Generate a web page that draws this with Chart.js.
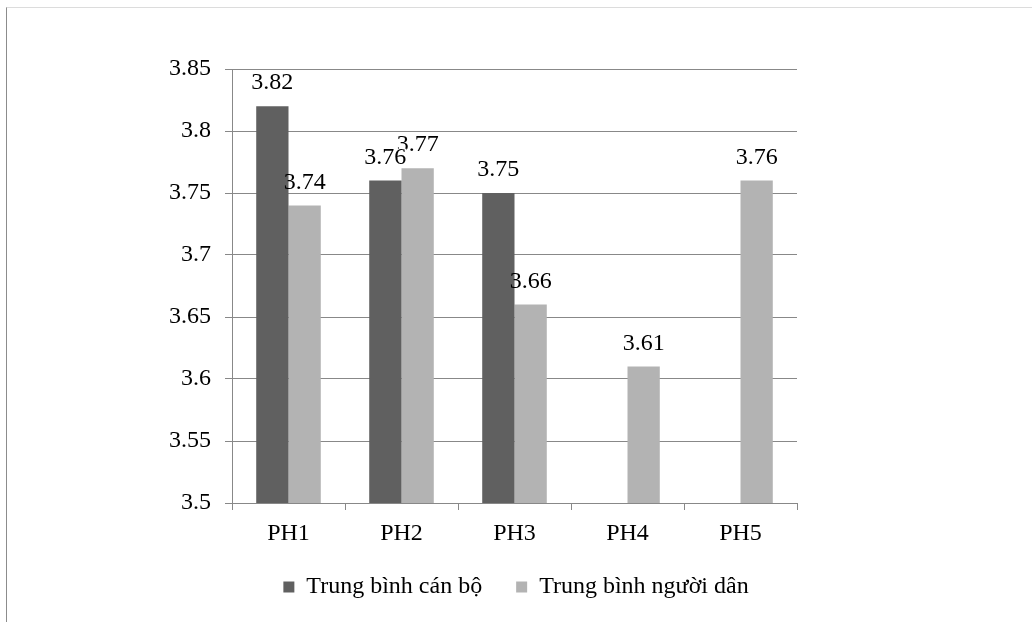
<!DOCTYPE html>
<html>
<head>
<meta charset="utf-8">
<script src="https://cdn.jsdelivr.net/npm/chart.js@4"></script>
<style>
  html, body { margin: 0; padding: 0; background: #fff; }
  #wrap { position: relative; width: 1032px; height: 622px; overflow: hidden; }
  #frame { position: absolute; left: 6px; top: 7px; width: 1100px; height: 700px;
           border-left: 1px solid #8c8c8c; border-top: 1px solid #dcdcdc; }
  #c { position: absolute; left: 0; top: 0; }
</style>
</head>
<body>
<div id="wrap">
  <div id="frame"></div>
  <canvas id="c" width="1032" height="622"></canvas>
</div>
<script>
// Categories and the two series of mean scores
const categories = ['PH1', 'PH2', 'PH3', 'PH4', 'PH5'];
const canBo = [3.82, 3.76, 3.75, null, null];
const nguoiDan = [3.74, 3.77, 3.66, 3.61, 3.76];
const seriesNames = ['Trung bình cán bộ', 'Trung bình người dân'];
const yTicks = [3.5, 3.55, 3.6, 3.65, 3.7, 3.75, 3.8, 3.85];

const FONT = 'Liberation Serif, "Times New Roman", serif';
const AXIS = '#888888';

// Value labels above each bar; the second series is drawn first so the
// first series' labels sit on top where they overlap.
const valueLabels = {
  id: 'valueLabels',
  afterDatasetsDraw(chart) {
    const ctx = chart.ctx;
    ctx.save();
    ctx.font = '24px ' + FONT;
    ctx.textAlign = 'center';
    ctx.textBaseline = 'middle';
    [1, 0].forEach(di => {
      const meta = chart.getDatasetMeta(di);
      const data = chart.data.datasets[di].data;
      meta.data.forEach((el, i) => {
        const v = data[i];
        if (v === null || v === undefined) return;
        const txt = String(v);
        const x = el.x, y = el.y - 23;
        if (di === 0) {
          const w = ctx.measureText(txt).width;
          ctx.fillStyle = '#ffffff';
          ctx.fillRect(x - w / 2, y - 9, w, 19);
        }
        ctx.fillStyle = '#000000';
        ctx.fillText(txt, x, y);
      });
    });
    ctx.restore();
  }
};

new Chart(document.getElementById('c'), {
  type: 'bar',
  data: {
    labels: categories,
    datasets: [
      { label: seriesNames[0], data: canBo, backgroundColor: '#606060',
        barPercentage: 1.0, categoryPercentage: 0.5714 },
      { label: seriesNames[1], data: nguoiDan, backgroundColor: '#b3b3b3',
        barPercentage: 1.0, categoryPercentage: 0.5714 }
    ]
  },
  options: {
    responsive: false,
    animation: false,
    devicePixelRatio: 1,
    layout: { padding: { left: 0, right: 0, top: 69, bottom: 13 } },
    plugins: {
      tooltip: { enabled: false },
      legend: {
        position: 'bottom',
        labels: {
          boxWidth: 11, boxHeight: 11, padding: 34,
          color: '#000', font: { family: FONT, size: 24 }
        }
      }
    },
    scales: {
      x: {
        afterFit(s) { s.height = 38; },
        grid: { display: true, drawOnChartArea: false, drawTicks: true, offset: true,
                tickLength: 7, color: AXIS, lineWidth: 1 },
        border: { display: true, color: AXIS, width: 1 },
        ticks: { color: '#000', font: { family: FONT, size: 24 }, padding: 9, maxRotation: 0 }
      },
      y: {
        min: 3.5, max: 3.85,
        afterFit(s) { s.width = 232; },
        afterBuildTicks(s) { s.ticks = yTicks.map(v => ({ value: v })); },
        grid: { color: AXIS, lineWidth: 1, tickLength: 7, drawTicks: true },
        border: { display: true, color: AXIS, width: 1 },
        ticks: {
          color: '#000', font: { family: FONT, size: 24 }, padding: 14,
          callback: (v) => String(v)
        }
      },
      // empty right-hand margin of the plot
      side: {
        type: 'linear', position: 'right', display: true,
        afterFit(s) { s.width = 235; },
        grid: { display: false },
        border: { display: false },
        ticks: { display: false }
      }
    }
  },
  plugins: [valueLabels]
});
</script>
</body>
</html>
